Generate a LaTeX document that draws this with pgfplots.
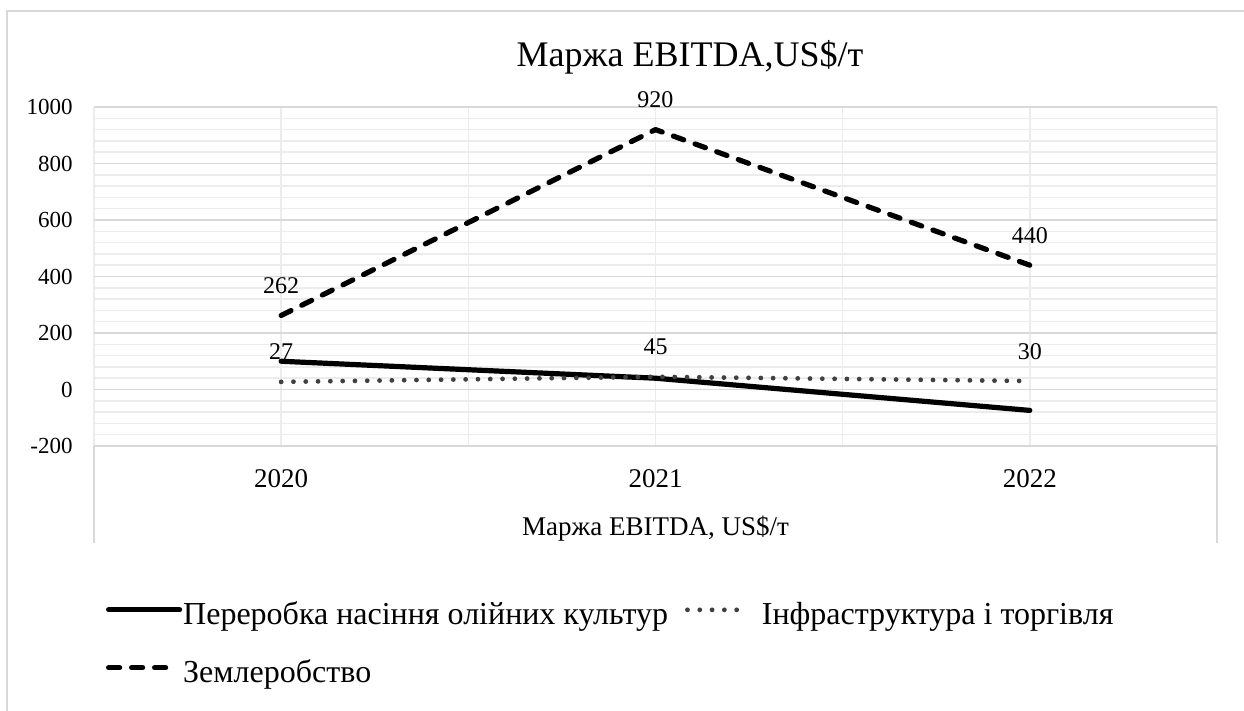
\documentclass[border=0pt]{standalone}
\usepackage{fontspec}
\setmainfont{Liberation Serif}
\usepackage{pgfplots}
\pgfplotsset{compat=1.18}
\definecolor{gmaj}{RGB}{217,217,217}
\definecolor{gmin}{RGB}{236,236,236}
\definecolor{dotc}{RGB}{64,64,64}
\pgfplotsset{
  legsolid/.style={legend image code/.code={\draw[##1] (0pt,7.5pt) -- (35.5pt,7.5pt);}},
  legdot/.style={legend image code/.code={\draw[##1] (0pt,7.5pt) -- (25pt,7.5pt); \path (35.5pt,7.5pt);}},
  legdash/.style={legend image code/.code={\draw[##1] (0pt,7.5pt) -- (31.5pt,7.5pt); \path (35.5pt,7.5pt);}},
}
\begin{document}
\begin{tikzpicture}
\useasboundingbox (0,0) rectangle (622pt,-355.5pt);
\draw[gmaj, line width=0.75pt] (3.5pt,-356pt) -- (3.5pt,-5.5pt) -- (623pt,-5.5pt);
\node[font=\fontsize{18}{21}\selectfont, anchor=base, inner sep=0pt] at (345pt,-33.5pt) {Маржа EBITDA,US\$/т};
\begin{axis}[
  at={(47pt,-223pt)}, anchor=south west,
  scale only axis, width=561.5pt, height=169.5pt,
  clip=false,
  xmin=-0.5, xmax=2.5, ymin=-200, ymax=1000,
  xtick={-0.5,0,0.5,1,1.5,2,2.5},
  xticklabels={,2020,,2021,,2022,},
  ytick={-200,0,200,400,600,800,1000},
  yticklabels={-200,0,200,400,600,800,1000},
  minor y tick num=4,
  xmajorgrids, ymajorgrids, yminorgrids,
  major x grid style={color=gmin, line width=0.75pt},
  major y grid style={color=gmaj, line width=0.9pt},
  minor y grid style={color=gmin, line width=0.75pt},
  axis line style={draw=none},
  tick style={draw=none},
  yticklabel style={font=\fontsize{11.5}{13}\selectfont, anchor=east, inner sep=0pt, xshift=-10.5pt},
  xticklabel style={font=\fontsize{13.5}{16}\selectfont, anchor=base, inner sep=0pt, yshift=-20.5pt},
  xlabel={Маржа EBITDA, US\$/т},
  xlabel style={font=\fontsize{13.5}{16}\selectfont, at={(axis description cs:0.5,0)}, anchor=base, inner sep=0pt, yshift=-44.5pt},
  every node near coord/.append style={font=\fontsize{12}{14}\selectfont, anchor=base, inner sep=0pt, yshift=11pt, text=black},
  legend columns=2,
  legend style={draw=none, fill=none, inner sep=0pt, outer sep=0pt,
    at={(axis description cs:0.0107,-0.46)}, anchor=north west,
    font=\fontsize{16}{19}\selectfont,
    cells={anchor=base west},
    nodes={inner sep=0pt},
    row sep=16pt,
    /tikz/every odd column/.append style={column sep=0.5pt},
    /tikz/every even column/.append style={column sep=8.5pt}},
]
\addplot[black, line width=2.6pt, line cap=round, line join=round, legsolid]
  coordinates {(0,100) (1,40) (2,-74)};
\addlegendentry{Переробка насіння олійних культур}
\addplot[dotc, line width=2.4pt, line cap=round, dash pattern=on 0pt off 6.15pt, legdot,
  nodes near coords, point meta=explicit symbolic]
  coordinates {(0,27) [27] (1,45) [45] (2,30) [30]};
\addlegendentry{Інфраструктура і торгівля}
\addplot[black, line width=2.6pt, line cap=round, line join=round, dash pattern=on 5.5pt off 6pt, legdash,
  nodes near coords, point meta=explicit symbolic]
  coordinates {(0,262) [262] (1,920) [920] (2,440) [440]};
\addlegendentry{Землеробство}
\draw[gmaj, line width=0.75pt] (axis description cs:0,0) -- (axis description cs:0,-0.286);
\draw[gmaj, line width=0.75pt] (axis description cs:1,0) -- (axis description cs:1,-0.286);
\end{axis}
\end{tikzpicture}
\end{document}
